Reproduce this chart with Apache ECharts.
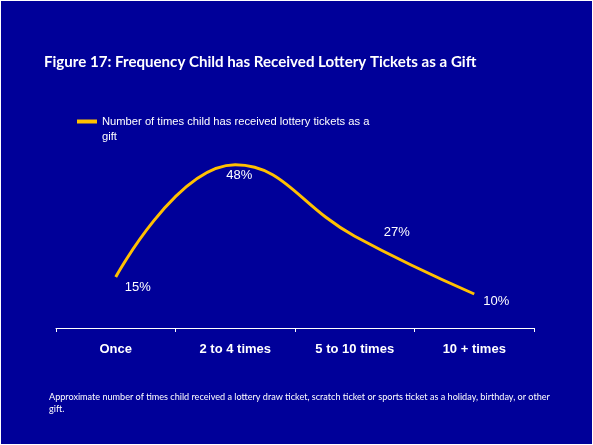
<!DOCTYPE html>
<html>
<head>
<meta charset="utf-8">
<script src="https://cdn.jsdelivr.net/npm/echarts@6/dist/echarts.min.js"></script>
<style>
html,body{margin:0;padding:0;background:#ffffff;}
#chart{position:absolute;left:1px;top:1px;width:591px;height:443px;}
</style>
</head>
<body>
<div id="chart"></div>
<script>
const titleText = 'Figure 17: Frequency Child has Received Lottery Tickets as a Gift';
const seriesName = 'Number of times child has received lottery tickets as a\ngift';
const categories = ['Once', '2 to 4 times', '5 to 10 times', '10 + times'];
const values = [15, 48, 27, 10];
const footnote = 'Approximate number of times child received a lottery draw ticket, scratch ticket or sports ticket as a holiday, birthday, or other\ngift.';

const labelOffsets = [[22, 10], [4, 11], [42, -4], [22, 7]];

const chart = echarts.init(document.getElementById('chart'), null, {renderer: 'canvas'});
chart.setOption({
  backgroundColor: '#000099',
  animation: false,
  title: [{
    text: titleText,
    left: 43, top: 54, padding: 0,
    textStyle: {color: '#ffffff', fontFamily: 'Lato', fontWeight: 'bold', fontSize: 15.1}
  }, {
    text: footnote,
    left: 48, top: 390, padding: 0,
    textStyle: {color: '#ffffff', fontFamily: 'Lato', fontWeight: 'normal', fontSize: 9.1, lineHeight: 12}
  }],
  legend: {
    left: 76, top: 98, padding: 0,
    itemWidth: 20, itemHeight: 4, itemGap: 0,
    icon: 'rect',
    itemStyle: {color: '#FFC000', opacity: 1},
    data: [seriesName],
    formatter: name => ' \n' + name,
    textStyle: {color: '#ffffff', fontFamily: 'Liberation Sans', fontSize: 11.2, lineHeight: 15}
  },
  grid: {left: 55, width: 478, top: 123, bottom: 116},
  xAxis: {
    type: 'category',
    data: categories,
    boundaryGap: true,
    axisLine: {lineStyle: {color: '#ffffff', width: 1}},
    axisTick: {show: true, length: 4, lineStyle: {color: '#ffffff'}},
    axisLabel: {color: '#ffffff', fontFamily: 'Liberation Sans', fontWeight: 'bold', fontSize: 13, margin: 15}
  },
  yAxis: {type: 'value', min: 0, max: 60, show: false, splitLine: {show: false}},
  series: [{
    type: 'line',
    name: seriesName,
    smooth: 0.45,
    symbol: 'circle',
    symbolSize: 1,
    itemStyle: {color: 'rgba(0,0,0,0)', borderWidth: 0},
    lineStyle: {color: '#FFC000', width: 3},
    data: values.map((v, i) => ({
      value: v,
      label: {offset: labelOffsets[i]}
    })),
    label: {
      show: true,
      position: 'inside',
      formatter: p => p.value + '%',
      color: '#ffffff',
      fontFamily: 'Liberation Sans',
      fontSize: 13
    }
  }]
});
</script>
</body>
</html>
